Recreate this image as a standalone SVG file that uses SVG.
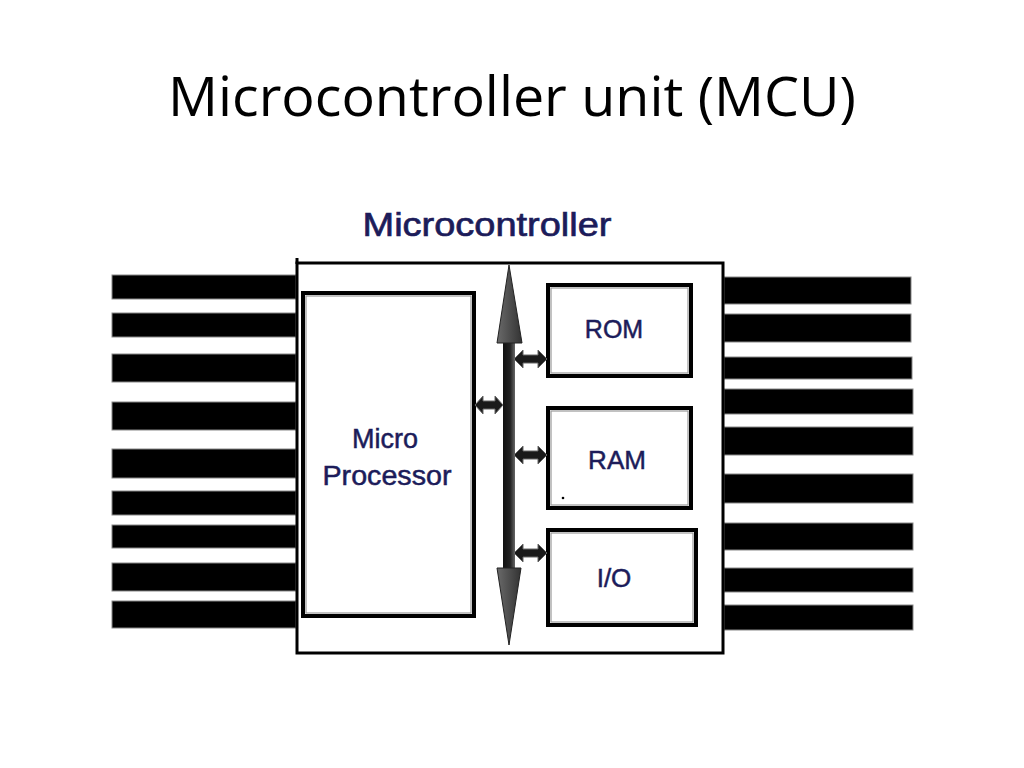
<svg xmlns="http://www.w3.org/2000/svg" width="1024" height="768" viewBox="0 0 1024 768">
<defs>
<style>
.title{font-family:"Open Sans","Liberation Sans",sans-serif;font-size:55px;fill:#000}
.lbl{font-family:"Liberation Sans",Arial,sans-serif;fill:#1c1c5a;stroke:#1c1c5a;stroke-width:0.5}
.pin{fill:#000;stroke:#888;stroke-width:1}
.outer{fill:#fff;stroke:#000;stroke-width:3}
.dbl{fill:#fff;stroke:#000;stroke-width:4}
.dblin{fill:none;stroke:#999;stroke-width:1.2}
.harrow{fill:#1a1a1a;stroke:#666;stroke-width:1}
</style>
<linearGradient id="shaft" x1="0" y1="0" x2="1" y2="0">
<stop offset="0" stop-color="#111"/>
<stop offset="0.6" stop-color="#222"/>
<stop offset="1" stop-color="#666"/>
</linearGradient>
<linearGradient id="head" x1="0" y1="0" x2="1" y2="0">
<stop offset="0" stop-color="#6a6a6a"/>
<stop offset="1" stop-color="#333"/>
</linearGradient>
</defs>
<rect width="1024" height="768" fill="#fff"/>
<text class="title" x="168" y="116" textLength="688" lengthAdjust="spacingAndGlyphs">Microcontroller unit (MCU)</text>
<text class="lbl" x="487" y="236" font-size="34" text-anchor="middle" textLength="249" lengthAdjust="spacingAndGlyphs" style="stroke-width:0.7">Microcontroller</text>

<g id="pins-left">
<rect class="pin" x="112" y="275" width="184" height="24"/>
<rect class="pin" x="112" y="313" width="184" height="24"/>
<rect class="pin" x="112" y="354" width="184" height="28"/>
<rect class="pin" x="112" y="402" width="184" height="28"/>
<rect class="pin" x="112" y="449" width="184" height="29"/>
<rect class="pin" x="112" y="491" width="184" height="24"/>
<rect class="pin" x="112" y="525" width="184" height="23"/>
<rect class="pin" x="112" y="563" width="184" height="28"/>
<rect class="pin" x="112" y="601" width="184" height="27"/>
</g>
<g id="pins-right">
<rect class="pin" x="724" y="277" width="187" height="27"/>
<rect class="pin" x="724" y="314" width="187" height="28"/>
<rect class="pin" x="724" y="357" width="188" height="22"/>
<rect class="pin" x="724" y="389" width="189" height="25"/>
<rect class="pin" x="724" y="427" width="189" height="28"/>
<rect class="pin" x="724" y="474" width="189" height="29"/>
<rect class="pin" x="724" y="523" width="189" height="27"/>
<rect class="pin" x="724" y="568" width="189" height="24"/>
<rect class="pin" x="724" y="605" width="189" height="25"/>
</g>

<g id="mcu">
<rect class="outer" x="297" y="263" width="426" height="390"/>
<line x1="297" y1="258" x2="297" y2="264" stroke="#000" stroke-width="3"/>
</g>

<g id="microprocessor">
<rect class="dbl" x="303" y="293" width="171" height="323"/>
<rect class="dblin" x="306" y="296" width="165" height="317"/>
<text class="lbl" x="385" y="448" font-size="27" text-anchor="middle">Micro</text>
<text class="lbl" x="387" y="485" font-size="27" text-anchor="middle" textLength="129" lengthAdjust="spacingAndGlyphs">Processor</text>
</g>

<g id="rom">
<rect class="dbl" x="548" y="285" width="143" height="91"/>
<rect class="dblin" x="551" y="288" width="137" height="85"/>
<text class="lbl" x="614" y="338" font-size="25" text-anchor="middle">ROM</text>
</g>
<g id="ram">
<rect class="dbl" x="548" y="408" width="143" height="100"/>
<rect class="dblin" x="551" y="411" width="137" height="94"/>
<text class="lbl" x="617" y="469" font-size="26" text-anchor="middle">RAM</text>
<circle cx="563" cy="498" r="1.3" fill="#000"/>
</g>
<g id="io">
<rect class="dbl" x="548" y="530" width="148" height="95"/>
<rect class="dblin" x="551" y="533" width="142" height="89"/>
<text class="lbl" x="614" y="587" font-size="26" text-anchor="middle">I/O</text>
</g>

<g id="connectors">
<rect x="503" y="340" width="12" height="231" fill="url(#shaft)"/>
<polygon points="509,265 522,343 497,343" fill="url(#head)" stroke="#222" stroke-width="1"/>
<polygon points="509,645 521,568 497,568" fill="url(#head)" stroke="#222" stroke-width="1"/>
<polygon class="harrow" points="514,359 523,350 523,355 538,355 538,350 547,359 538,368 538,363 523,363 523,368"/>
<polygon class="harrow" points="475,405 483,396 483,401 495,401 495,396 503,405 495,414 495,409 483,409 483,414"/>
<polygon class="harrow" points="514,455 523,446 523,451 538,451 538,446 547,455 538,464 538,459 523,459 523,464"/>
<polygon class="harrow" points="514,553 523,544 523,549 538,549 538,544 547,553 538,562 538,557 523,557 523,562"/>
</g>
</svg>
